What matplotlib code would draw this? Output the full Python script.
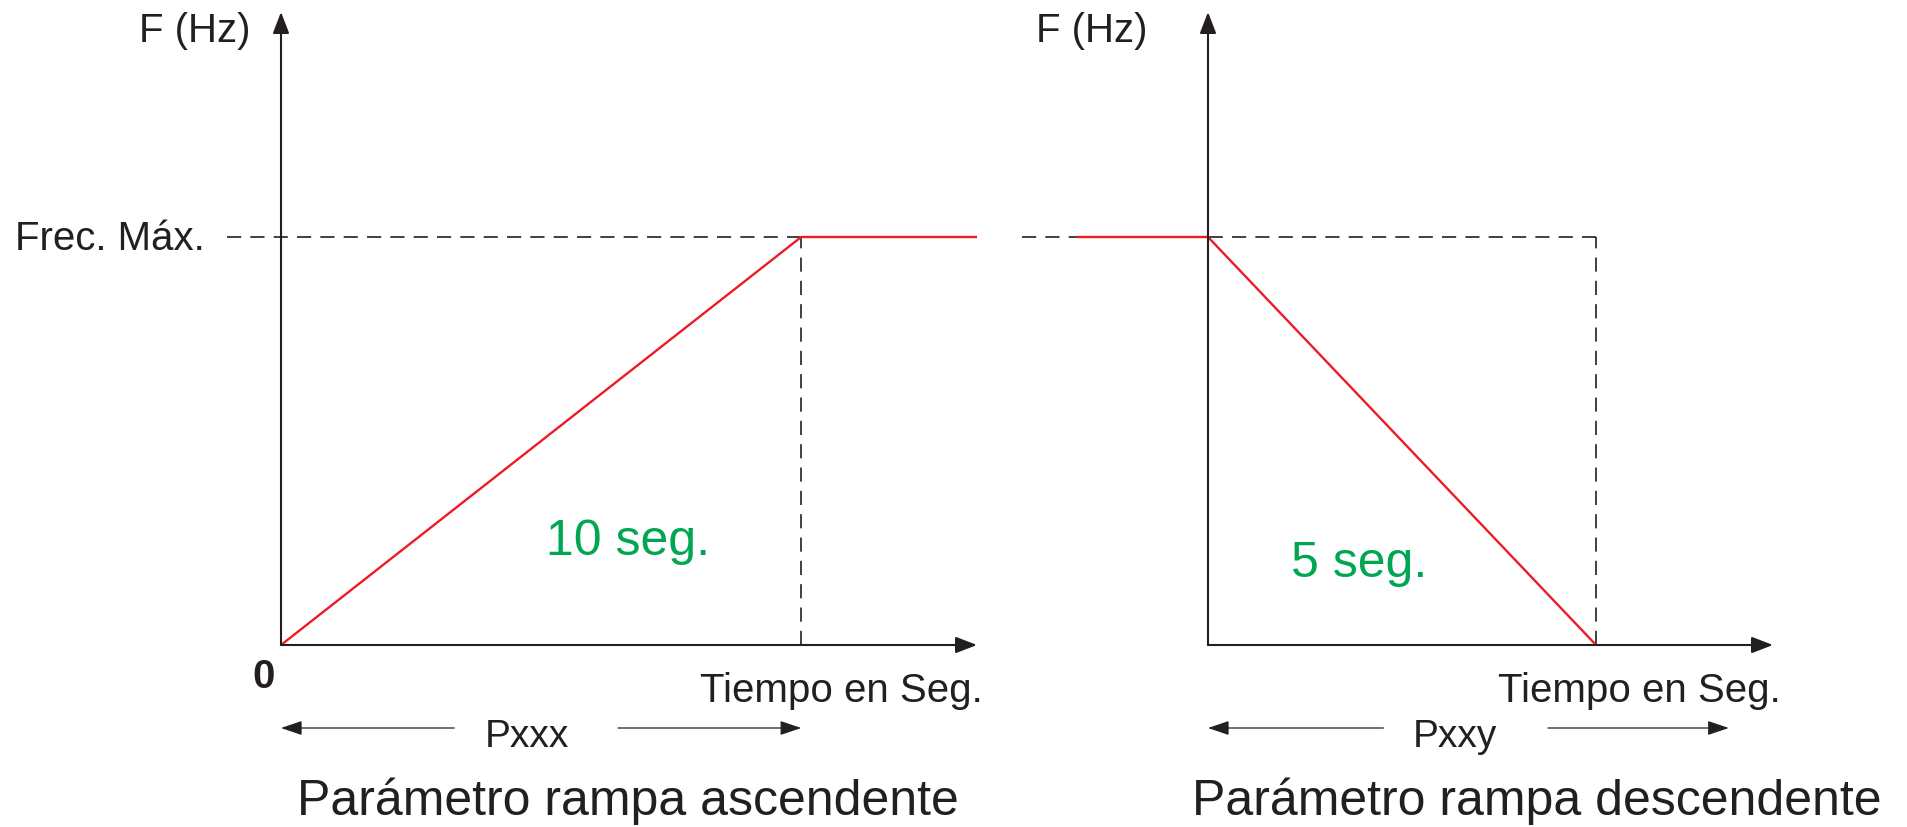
import matplotlib
matplotlib.use("Agg")
import matplotlib.pyplot as plt

# ---------------- data ----------------
f_max = 60.0                      # "Frec. Máx." (arbitrary units)
ramp_up_time = 10.0               # seconds (Pxxx)
ramp_down_time = 5.0              # seconds (Pxxy)
up_t = [0.0, ramp_up_time, 13.38]         # accel ramp then plateau
up_f = [0.0, f_max, f_max]
down_t = [-1.69, 0.0, ramp_down_time]     # plateau then decel ramp
down_f = [f_max, f_max, 0.0]
labels_up = {"param": "Pxxx", "title": "Parámetro rampa ascendente", "time": "10 seg."}
labels_down = {"param": "Pxxy", "title": "Parámetro rampa descendente", "time": "5 seg."}

W, H = 1908, 827
DPI = 100
BLACK = "#231f20"
RED = "#ed1c24"
GREEN = "#00a651"
FONT = ["Liberation Sans", "DejaVu Sans"]

fig = plt.figure(figsize=(W / DPI, H / DPI), dpi=DPI)
fig.patch.set_facecolor("white")


def fpx(x, y):
    return x / W, 1 - y / H


def make_axes(x0, x1, y0, y1, xmax, ymax):
    ax = fig.add_axes([x0 / W, 1 - y0 / H, (x1 - x0) / W, (y0 - y1) / H])
    ax.set_xlim(0, xmax)
    ax.set_ylim(0, ymax)
    ax.axis("off")
    return ax


F_top = f_max * (645 - 12) / (645 - 237)
axL = make_axes(281, 977, 645, 12, 13.38, F_top)
axR = make_axes(1208, 1773, 645, 12, 7.28, F_top)

dash = (0, (8.5, 5.5))


def axis_arrows(ax, xmax):
    ap = dict(arrowstyle="-|>,head_length=0.65,head_width=0.25", color=BLACK,
              lw=1.5, shrinkA=0, shrinkB=0, mutation_scale=20)
    ax.annotate("", xy=(xmax, 0), xytext=(0, 0), arrowprops=ap, annotation_clip=False)
    ax.annotate("", xy=(0, F_top), xytext=(0, 0), arrowprops=ap, annotation_clip=False)


def dim_arrows(ax, segs, y):
    ap = dict(arrowstyle="-|>,head_length=0.65,head_width=0.22", color=BLACK,
              lw=0.9, shrinkA=0, shrinkB=0, mutation_scale=20)
    for tail, tip in segs:
        ax.annotate("", xy=(tip, y), xytext=(tail, y), arrowprops=ap,
                    annotation_clip=False)


# ---- left: ascending ramp ----
axL.plot([-1.04, ramp_up_time], [f_max, f_max], color=BLACK, lw=1.2, ls=dash, clip_on=False)
axL.plot([ramp_up_time, ramp_up_time], [0, f_max], color=BLACK, lw=1.2, ls=dash, clip_on=False)
axis_arrows(axL, 13.38)
axL.plot(up_t, up_f, color=RED, lw=1.7, clip_on=False, solid_capstyle="butt")
y_dim = f_max * (645 - 728) / (645 - 237)
dim_arrows(axL, [(3.33, 0.0), (6.48, ramp_up_time)], y_dim)

# ---- right: descending ramp ----
axR.plot([-2.40, ramp_down_time], [f_max, f_max], color=BLACK, lw=1.2, ls=dash, clip_on=False)
axR.plot([ramp_down_time, ramp_down_time], [0, f_max], color=BLACK, lw=1.2, ls=dash, clip_on=False)
axis_arrows(axR, 7.28)
axR.plot(down_t, down_f, color=RED, lw=1.7, clip_on=False, solid_capstyle="butt")
dim_arrows(axR, [(2.26, 0.0), (4.38, 6.71)], y_dim)

# ---------------- text ----------------
def T(x, y, s, size, ha="center", color=BLACK, weight="normal"):
    fig.text(*fpx(x, y), s, fontsize=size, ha=ha, va="baseline", color=color,
             family=FONT, fontweight=weight)


T(195, 42, "F (Hz)", 29)
T(1092, 42, "F (Hz)", 29)
T(15, 250, "Frec. Máx.", 29, ha="left")
T(264, 688, "0", 29, weight="bold")
T(983, 702, "Tiempo en Seg.", 29, ha="right")
T(1781, 702, "Tiempo en Seg.", 29, ha="right")
T(527, 747, labels_up["param"], 28)
T(1455, 747, labels_down["param"], 28)
T(628, 815, labels_up["title"], 36)
T(1537, 815, labels_down["title"], 36)
T(628, 555, labels_up["time"], 36, color=GREEN)
T(1359, 577, labels_down["time"], 36, color=GREEN)

fig.savefig("out.png", dpi=DPI, facecolor="white")
